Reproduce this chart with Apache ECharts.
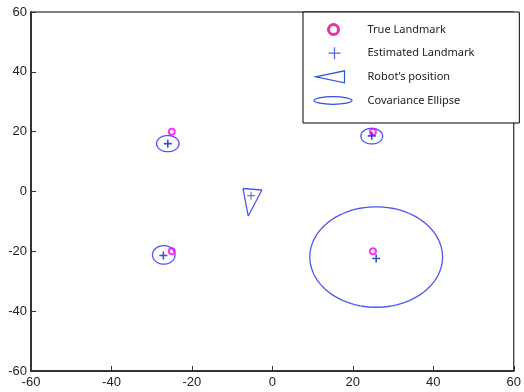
<!DOCTYPE html>
<html><head><meta charset="utf-8">
<script src="https://cdn.jsdelivr.net/npm/echarts@6/dist/echarts.min.js"></script>
<style>html,body{margin:0;padding:0;background:#fff}#c{width:524px;height:392px}</style>
</head><body><div id="c"></div>
<script>
// ---- data ----
const xTicks = [-60, -40, -20, 0, 20, 40, 60];
const yTicks = [-60, -40, -20, 0, 20, 40, 60];
const trueLandmarks = [[-25, 20], [25, 20], [-25, -20], [25, -20]];
const estimatedLandmarks = [[-26, 16], [24.7, 18.6], [-27.1, -21.4], [25.8, -22.4]];
// ellipse: [centerX, centerY, radiusX, radiusY]
const covarianceEllipses = [[-26, 16, 2.8, 2.7], [24.7, 18.5, 2.7, 2.6], [-27.0, -21.2, 2.8, 3.1], [25.8, -21.9, 16.5, 16.8]];
const robotTriangle = [[-7.3, 1.0], [-2.6, 0.5], [-6.0, -8.2], [-7.3, 1.0]];
const robotPosition = [[-5.3, -1.4]];
const legendNames = ['True Landmark', 'Estimated Landmark', 'Robot\u2019s position', 'Covariance Ellipse'];

const PLUS = 'path://M0 5 L10 5 M5 0 L5 10';
const pad = 'M0 0 M57 14 ';
const icons = [
  'path://' + pad + 'M33 7 A5 5 0 1 1 23 7 A5 5 0 1 1 33 7 Z',
  'path://' + pad + 'M23 7 L35 7 M29 1 L29 13',
  'path://' + pad + 'M10 7 L39 1 L39 13 Z',
  'path://' + pad + 'M8.5 7 A19 3.8 0 1 1 46.5 7 A19 3.8 0 1 1 8.5 7 Z'
];
const legendStyles = [
  {color: 'none', borderColor: '#e0008a', borderWidth: 3},
  {color: 'none', borderColor: '#2040e0', borderWidth: 1.2},
  {color: 'none', borderColor: '#3050e0', borderWidth: 1.2},
  {color: 'none', borderColor: '#3050e0', borderWidth: 1.2}
];

const chart = echarts.init(document.getElementById('c'), null, {renderer: 'canvas'});
const axisCommon = {
  type: 'value', min: -60, max: 60, interval: 20,
  splitLine: {show: false},
  axisLine: {show: true, onZero: false, lineStyle: {color: '#333', width: 2}},
  axisTick: {show: true, inside: true, length: 5, lineStyle: {color: '#333', width: 1}},
  axisLabel: {fontFamily: 'Liberation Sans', fontSize: 13, color: '#222', hideOverlap: false,
              showMinLabel: true, showMaxLabel: true}
};
chart.setOption({
  animation: false,
  backgroundColor: '#fff',
  grid: {left: 31, right: 7, top: 12, bottom: 21, show: true, borderColor: '#000', borderWidth: 1, containLabel: false},
  xAxis: Object.assign({}, axisCommon, {axisLabel: Object.assign({}, axisCommon.axisLabel, {margin: 5})}),
  yAxis: Object.assign({}, axisCommon, {axisLabel: Object.assign({}, axisCommon.axisLabel, {margin: 4})}),
  legend: {
    show: true, orient: 'vertical', left: 303, top: 12,
    padding: [8, 45, 13, 0], itemGap: 4.67, itemWidth: 57, itemHeight: 14,
    borderColor: '#000', borderWidth: 1, backgroundColor: '#fff',
    selectedMode: false,
    textStyle: {fontFamily: 'Noto Sans', fontSize: 11, color: '#222'},
    data: legendNames.map((n, i) => ({name: n, icon: icons[i], itemStyle: legendStyles[i]}))
  },
  series: [
    {
      name: legendNames[3], type: 'custom', coordinateSystem: 'cartesian2d',
      encode: {x: 0, y: 1},
      data: covarianceEllipses,
      renderItem: function (params, api) {
        const cx = api.value(0), cy = api.value(1), rx = api.value(2), ry = api.value(3);
        const pts = [];
        for (let i = 0; i < 90; i++) {
          const t = i / 90 * 2 * Math.PI;
          pts.push(api.coord([cx + rx * Math.cos(t), cy + ry * Math.sin(t)]));
        }
        return {type: 'polygon', shape: {points: pts}, style: {fill: 'none', stroke: '#4f55f5', lineWidth: 1.3}};
      },
      z: 2
    },
    {
      name: legendNames[2], type: 'line', data: robotTriangle, symbol: 'none',
      lineStyle: {color: '#4f55f5', width: 1.3}, z: 3
    },
    {
      name: legendNames[2], type: 'scatter', data: robotPosition, symbol: PLUS, symbolSize: 8,
      itemStyle: {color: 'none', borderColor: '#303c9a', borderWidth: 1}, z: 4
    },
    {
      name: legendNames[0], type: 'scatter', data: trueLandmarks, symbol: 'circle', symbolSize: 6,
      itemStyle: {color: 'rgba(0,0,0,0)', borderColor: '#ff00ff', borderWidth: 2}, z: 5
    },
    {
      name: legendNames[1], type: 'scatter', data: estimatedLandmarks, symbol: PLUS, symbolSize: 8,
      itemStyle: {color: 'none', borderColor: '#1020c8', borderWidth: 1.6}, z: 6
    }
  ]
});
</script></body></html>
